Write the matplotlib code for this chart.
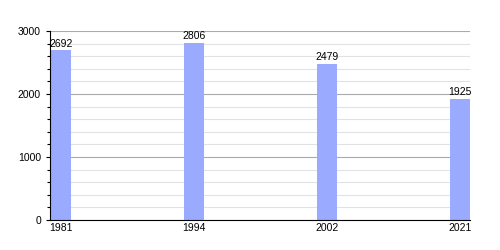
import numpy as np
import matplotlib.pyplot as plt
from matplotlib.ticker import MultipleLocator

plt.rcParams['font.family'] = ['Liberation Sans', 'DejaVu Sans']

years = ['1981', '1994', '2002', '2021']
population = [2692, 2806, 2479, 1925]

fig = plt.figure(figsize=(5, 2.5), dpi=100)
ax = fig.add_axes([0.1, 0.12, 0.84, 0.756])

x = np.arange(len(years))
ax.bar(x, population, width=0.15, color='#99aaff', zorder=2)
for xi, v in zip(x, population):
    ax.text(xi, v + 30, str(v), ha='center', va='bottom', fontsize=7.5, zorder=3)

ax.set_xlim(-0.083, 3.075)
ax.set_ylim(0, 3000)
ax.set_xticks(x)
ax.set_xticklabels(years, fontsize=7.5)
ax.yaxis.set_major_locator(MultipleLocator(1000))
ax.yaxis.set_minor_locator(MultipleLocator(200))
ax.tick_params(axis='y', labelsize=7.5, length=3, width=0.8)
ax.tick_params(axis='y', which='minor', length=2, width=0.8)
ax.tick_params(axis='x', length=0, pad=2)
ax.grid(axis='y', which='major', color='#aaaaaa', linewidth=0.8, zorder=0)
ax.grid(axis='y', which='minor', color='#e2e2e2', linewidth=0.8, zorder=0)
ax.set_axisbelow(True)
for s in ['top', 'right']:
    ax.spines[s].set_visible(False)

plt.savefig('out.png')
